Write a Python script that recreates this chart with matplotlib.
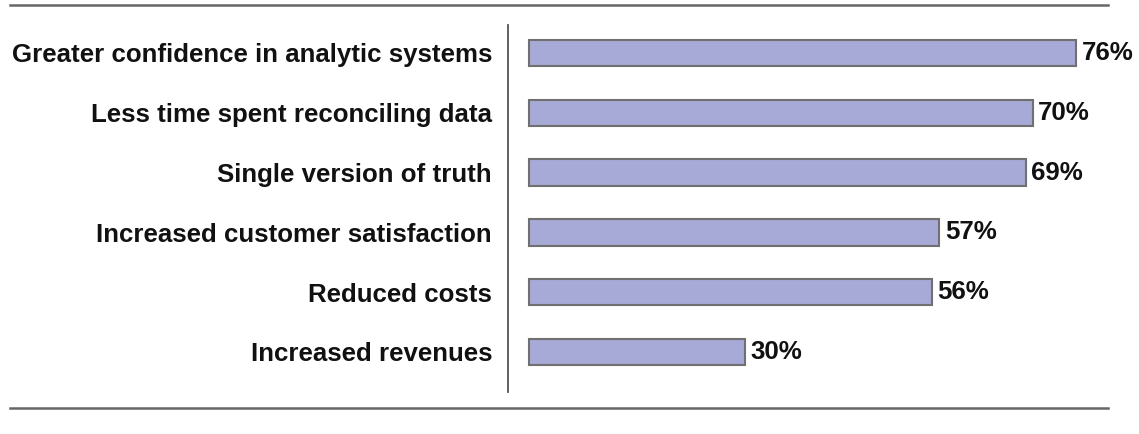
import matplotlib
matplotlib.use("Agg")
import matplotlib.pyplot as plt
from matplotlib.lines import Line2D

categories = [
    "Greater confidence in analytic systems",
    "Less time spent reconciling data",
    "Single version of truth",
    "Increased customer satisfaction",
    "Reduced costs",
    "Increased revenues",
]
values = [76, 70, 69, 57, 56, 30]
value_labels = ["76%", "70%", "69%", "57%", "56%", "30%"]

W, H = 1139, 434
fig = plt.figure(figsize=(W / 100, H / 100), dpi=100)
plt.rcParams['font.family'] = ['Liberation Sans', 'DejaVu Sans']

ax = fig.add_axes([508 / W, 1 - 392 / H, (W - 508) / W, (392 - 25) / H])
px_per = 547 / 76.0
ax.set_xlim(-(529 - 508) / px_per, (W - 508 - 21) / px_per)
ax.set_ylim(5.669, -0.468)

ypos = list(range(len(categories)))
ax.barh(ypos, values, height=0.44, left=0, color="#A7A9D6",
        edgecolor="#707070", linewidth=1.5)

for y, v, lab in zip(ypos, values, value_labels):
    ax.annotate(lab, (v, y), xytext=(4, 0), textcoords="offset points",
                ha="left", va="center", fontsize=18.6, fontweight="bold",
                color="#111111")

ax.set_yticks(ypos)
ax.set_yticklabels(categories, fontsize=18.6, fontweight="bold", color="#111111")
ax.tick_params(axis="y", length=0, pad=11.5)
ax.set_xticks([])
for s in ["top", "right", "bottom"]:
    ax.spines[s].set_visible(False)
ax.spines["left"].set_color("#555555")
ax.spines["left"].set_linewidth(1.3)

fig.add_artist(Line2D([10 / W, 1108 / W], [1 - 5 / H, 1 - 5 / H],
                      color="#666666", linewidth=1.8))
fig.add_artist(Line2D([10 / W, 1108 / W], [1 - 408 / H, 1 - 408 / H],
                      color="#666666", linewidth=1.8))

fig.savefig("out.png", dpi=100)
